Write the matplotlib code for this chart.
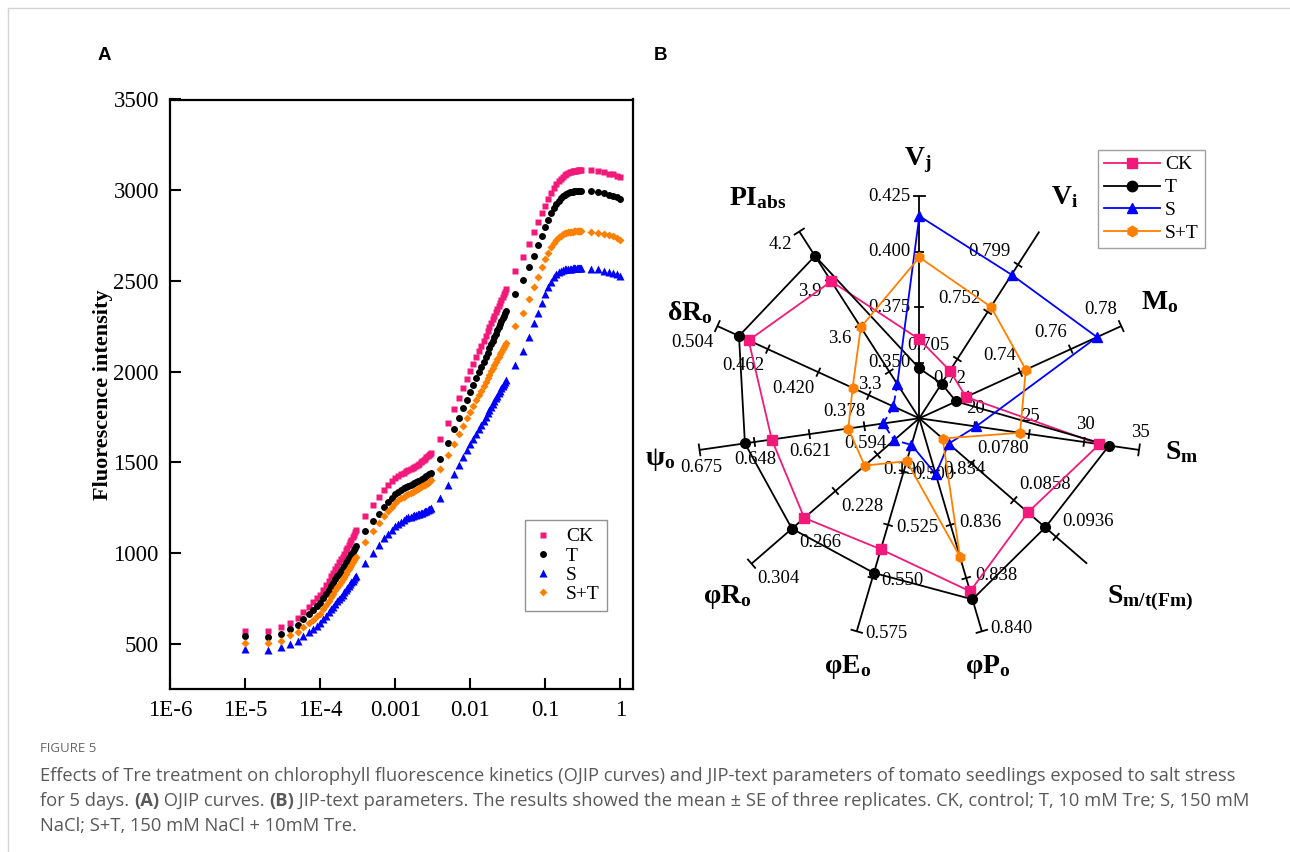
import numpy as np
import matplotlib
matplotlib.use('agg')
import matplotlib.pyplot as plt
from matplotlib.lines import Line2D

plt.rcParams['font.family'] = ['Liberation Serif', 'DejaVu Serif']
plt.rcParams['mathtext.fontset'] = 'custom'
plt.rcParams['mathtext.rm'] = 'Liberation Serif'
plt.rcParams['mathtext.bf'] = 'Liberation Serif:bold'
plt.rcParams['mathtext.it'] = 'Liberation Serif:italic'

W, H = 1290, 852

# ---------------- panel A: OJIP curves ----------------
time_ms = [0.01, 0.02, 0.03, 0.04, 0.05, 0.06, 0.07, 0.08, 0.09, 0.10,
           0.11, 0.12, 0.13, 0.14, 0.15, 0.16, 0.17, 0.18, 0.19, 0.20,
           0.21, 0.22, 0.23, 0.24, 0.25, 0.26, 0.27, 0.28, 0.29, 0.30,
           0.4, 0.5, 0.6, 0.7, 0.8, 0.9, 1.0, 1.1, 1.2, 1.3, 1.4, 1.5, 1.6, 1.7,
           1.8, 1.9, 2.0, 2.1, 2.2, 2.3, 2.4, 2.5, 2.6, 2.7, 2.8, 2.9, 3.0,
           4, 5, 6, 7, 8, 9, 10, 11, 12, 13, 14, 15, 16, 17, 18, 19, 20,
           21, 22, 23, 24, 25, 26, 27, 28, 29, 30,
           40, 50, 60, 70, 80, 90, 100, 110, 120, 130, 140, 150, 160, 170,
           180, 190, 200, 210, 220, 230, 240, 250, 260, 270, 280, 290, 300,
           400, 500, 600, 700, 800, 900, 1000]

fl_ck = [570, 570, 591, 615, 642, 675, 703, 727, 749, 768, 797, 824, 848, 871, 892,
         912, 930, 948, 964, 980, 997, 1014, 1030, 1045, 1060, 1074, 1087, 1100, 1113, 1125,
         1203, 1263, 1309, 1346, 1374, 1394, 1411, 1424, 1434, 1443, 1450, 1456, 1462, 1468,
         1474, 1480, 1486, 1492, 1499, 1506, 1513, 1520, 1527, 1534, 1540, 1546, 1552,
         1626, 1718, 1793, 1856, 1911, 1960, 2003, 2042, 2078, 2111, 2141, 2170, 2196, 2221,
         2245, 2267, 2288, 2308, 2327, 2345, 2363, 2380, 2396, 2411, 2426, 2441, 2455,
         2556, 2634, 2704, 2772, 2827, 2873, 2913, 2950, 2983, 3011, 3033, 3050, 3064, 3075,
         3084, 3090, 3095, 3099, 3102, 3104, 3106, 3107, 3108, 3109, 3110, 3110, 3110,
         3110, 3104, 3098, 3092, 3087, 3081, 3075]
fl_t = [540, 538, 555, 580, 603, 635, 662, 686, 706, 725, 751, 775, 797, 817, 836,
        854, 871, 886, 901, 915, 930, 944, 957, 970, 982, 994, 1005, 1016, 1027, 1037,
        1120, 1175, 1217, 1252, 1280, 1305, 1325, 1338, 1348, 1356, 1363, 1369, 1374, 1379,
        1384, 1389, 1394, 1399, 1404, 1409, 1414, 1419, 1424, 1429, 1434, 1438, 1442,
        1516, 1607, 1681, 1744, 1798, 1846, 1889, 1928, 1963, 1996, 2026, 2054, 2080, 2105,
        2128, 2150, 2171, 2191, 2209, 2227, 2245, 2261, 2277, 2293, 2308, 2322, 2336,
        2428, 2505, 2575, 2637, 2698, 2748, 2799, 2836, 2873, 2901, 2925, 2943, 2957, 2967,
        2975, 2981, 2985, 2988, 2990, 2992, 2993, 2994, 2995, 2995, 2995, 2995, 2995,
        2995, 2989, 2983, 2976, 2969, 2960, 2951]
fl_s = [468, 464, 479, 500, 517, 542, 563, 581, 598, 612, 634, 654, 672, 689, 704,
        719, 733, 746, 758, 770, 783, 795, 806, 817, 828, 838, 848, 857, 866, 875,
        945, 1000, 1046, 1080, 1105, 1128, 1147, 1162, 1173, 1182, 1190, 1196, 1200, 1204,
        1208, 1211, 1214, 1217, 1220, 1223, 1226, 1229, 1233, 1237, 1241, 1245, 1250,
        1305, 1377, 1435, 1485, 1528, 1566, 1600, 1630, 1658, 1684, 1708, 1730, 1751, 1770,
        1789, 1806, 1822, 1838, 1853, 1867, 1881, 1894, 1907, 1919, 1931, 1942, 1953,
        2036, 2115, 2192, 2266, 2325, 2380, 2428, 2465, 2496, 2520, 2538, 2550, 2557, 2561,
        2564, 2566, 2567, 2568, 2568, 2569, 2569, 2569, 2569, 2569, 2569, 2569, 2569,
        2568, 2563, 2557, 2551, 2545, 2537, 2528]
fl_st = [505, 501, 516, 545, 565, 591, 614, 633, 650, 665, 691, 715, 737, 757, 776,
         794, 811, 826, 841, 855, 870, 884, 898, 911, 924, 936, 948, 959, 970, 980,
         1061, 1121, 1166, 1203, 1232, 1256, 1276, 1290, 1302, 1311, 1319, 1325, 1331, 1337,
         1342, 1347, 1352, 1357, 1362, 1367, 1372, 1377, 1382, 1387, 1392, 1396, 1400,
         1461, 1538, 1602, 1655, 1701, 1742, 1779, 1812, 1842, 1870, 1895, 1919, 1942, 1963,
         1983, 2001, 2019, 2036, 2052, 2068, 2082, 2096, 2110, 2123, 2136, 2148, 2160,
         2251, 2325, 2399, 2468, 2523, 2575, 2619, 2656, 2689, 2710, 2728, 2741, 2750, 2757,
         2762, 2765, 2768, 2770, 2771, 2772, 2773, 2773, 2774, 2774, 2774, 2774, 2774,
         2770, 2764, 2758, 2752, 2745, 2737, 2728]

x_ticks = [1e-6, 1e-5, 1e-4, 1e-3, 1e-2, 1e-1, 1]
x_ticklabels = ['1E-6', '1E-5', '1E-4', '0.001', '0.01', '0.1', '1']

# ---------------- panel B: JIP-test radar ----------------
params = [r'$\mathbf{V_j}$', r'$\mathbf{V_i}$', r'$\mathbf{M_o}$', r'$\mathbf{S_m}$',
          r'$\mathbf{S_{m/t(Fm)}}$', r'$\mathbf{φP_o}$', r'$\mathbf{φE_o}$',
          r'$\mathbf{φR_o}$', r'$\mathbf{ψ_o}$', r'$\mathbf{δR_o}$', r'$\mathbf{PI_{abs}}$']
axis_min = [0.325, 0.646, 0.70, 15, 0.0684, 0.832, 0.475, 0.152, 0.567, 0.336, 3.0]
axis_max = [0.425, 0.832, 0.78, 35, 0.0993, 0.840, 0.575, 0.304, 0.675, 0.504, 4.2]
axis_ticks = [['0.350', '0.375', '0.400', '0.425'],
              ['0.705', '0.752', '0.799'],
              ['0.72', '0.74', '0.76', '0.78'],
              ['20', '25', '30', '35'],
              ['0.0780', '0.0858', '0.0936'],
              ['0.834', '0.836', '0.838', '0.840'],
              ['0.500', '0.525', '0.550', '0.575'],
              ['0.190', '0.228', '0.266', '0.304'],
              ['0.594', '0.621', '0.648', '0.675'],
              ['0.378', '0.420', '0.462', '0.504'],
              ['3.3', '3.6', '3.9', '4.2']]
axis_cap = [True, False, True, True, False, True, True, True, True, True, True]

jip_ck = [0.3606, 0.6934, 0.7185, 31.40, 0.0884, 0.8385, 0.5365, 0.2562, 0.6395, 0.478, 3.880]
jip_t = [0.3475, 0.6805, 0.7146, 32.27, 0.0916, 0.8388, 0.5476, 0.2674, 0.6527, 0.486, 4.043]
jip_s = [0.4161, 0.7890, 0.7704, 20.17, 0.0738, 0.8341, 0.4875, 0.1748, 0.5847, 0.3576, 3.220]
jip_st = [0.3975, 0.7570, 0.7422, 24.17, 0.0727, 0.8372, 0.4951, 0.2015, 0.6019, 0.3915, 3.585]

PINK, ORANGE, BLUE = '#F2197A', '#FF8000', '#0000FF'

fig = plt.figure(figsize=(W / 100, H / 100), dpi=100)

# ---- A ----
ax = fig.add_axes([170 / W, 1 - 689 / H, (633 - 170) / W, (689 - 99.5) / H])
t_s = np.array(time_ms) / 1000.0
ax.plot(t_s, fl_ck, ls='none', marker='s', ms=4.6, color=PINK, mec='none', label='CK')
ax.plot(t_s, fl_t, ls='none', marker='o', ms=5.0, color='black', mec='none', label='T')
ax.plot(t_s, fl_s, ls='none', marker='^', ms=5.6, color=BLUE, mec='none', label='S')
ax.plot(t_s, fl_st, ls='none', marker='D', ms=4.4, color=ORANGE, mec='none', label='S+T')
ax.set_xscale('log')
ax.set_xlim(1e-6, 1.47)
ax.set_ylim(250, 3500)
ax.set_xticks(x_ticks)
ax.set_xticklabels(x_ticklabels)
ax.minorticks_off()
ax.set_yticks([500, 1000, 1500, 2000, 2500, 3000, 3500])
ax.tick_params(direction='in', length=8, width=1.5, labelsize=16.5, pad=8)
for sp in ax.spines.values():
    sp.set_linewidth(1.6)
ax.set_ylabel('Fluorescence intensity', fontsize=16, fontweight='bold', labelpad=0)
leg = ax.legend(loc='upper left', bbox_to_anchor=(525 / W, 1 - 520 / H),
                bbox_transform=fig.transFigure, fancybox=False, edgecolor='#777777',
                fontsize=14, handlelength=1.0, handletextpad=0.7, borderpad=0.4,
                labelspacing=0.08, borderaxespad=0)
leg.get_frame().set_linewidth(1.0)

# ---- B ----
L = 222.0  # axis length in px
cx, cy = 919.3, 418.3
lim = 1.4
bx = fig.add_axes([(cx - lim * L) / W, 1 - (cy + lim * L) / H, 2 * lim * L / W, 2 * lim * L / H])
bx.set_xlim(-lim, lim)
bx.set_ylim(-lim, lim)
bx.axis('off')

n = len(params)
theta = np.pi / 2 - np.arange(n) * 2 * np.pi / n
px = 1.0 / L
# axis-title placement: (radius, angle in degrees)
title_pos = [(1.163, 90.3), (1.193, 56.6), (1.204, 25.8), (1.193, -7.3), (1.317, -37.9),
             (1.162, -74.6), (1.165, -106.0), (1.182, -137.1), (1.18, -171.0),
             (1.137, 155.3), (1.23, 126.2)]

for i in range(n):
    c, s = np.cos(theta[i]), np.sin(theta[i])
    nx, ny = -s, c
    bx.plot([0, c], [0, s], color='black', lw=1.3, zorder=1, solid_capstyle='butt')
    lo, hi = axis_min[i], axis_max[i]
    for k, lab in enumerate(axis_ticks[i]):
        r = (float(lab) - lo) / (hi - lo)
        tx, ty = r * c, r * s
        half = 5.5 * px if (axis_cap[i] and k == len(axis_ticks[i]) - 1) else 4 * px
        bx.plot([tx - half * nx, tx + half * nx], [ty - half * ny, ty + half * ny],
                color='black', lw=1.3, zorder=1)
        ha = 'right' if nx < -0.3 else ('left' if nx > 0.3 else 'center')
        va = 'bottom' if ny > 0.3 else ('top' if ny < -0.3 else 'center')
        d = 9 * px
        bx.text(tx + d * nx, ty + d * ny, lab, ha=ha, va=va, fontsize=13.5, zorder=2)
    tr, ta = title_pos[i]
    bx.text(tr * np.cos(np.radians(ta)), tr * np.sin(np.radians(ta)), params[i],
            ha='center', va='center', fontsize=20)


def to_xy(vals):
    r = [(v - lo) / (hi - lo) for v, lo, hi in zip(vals, axis_min, axis_max)]
    return np.array(r) * np.cos(theta), np.array(r) * np.sin(theta)


series = [(jip_ck, PINK, 's', 'CK'), (jip_t, 'black', 'o', 'T'),
          (jip_s, BLUE, '^', 'S'), (jip_st, ORANGE, 'h', 'S+T')]
handles = []
for vals, col, mk, lab in series:
    x, y = to_xy(vals)
    if lab == 'S':
        solid = [6, 5, 4, 3, 2, 1, 0, 10]
        dashed = [10, 9, 8, 7, 6]
        bx.plot(x[solid], y[solid], color=col, lw=1.3, zorder=3)
        bx.plot(x[dashed], y[dashed], color=col, lw=1.3, ls=(0, (4, 2.5)), zorder=3)
    else:
        bx.plot(np.append(x, x[0]), np.append(y, y[0]), color=col, lw=1.3, zorder=3)
    bx.plot(x, y, ls='none', marker=mk, ms=7, color=col, mec=col, zorder=4)
    handles.append(Line2D([], [], color=col, lw=1.3, marker=mk, ms=7.5, label=lab))

leg2 = fig.legend(handles=handles, loc='upper left', bbox_to_anchor=(1098 / W, 1 - 150 / H),
                  fancybox=False, edgecolor='#888888', fontsize=14, handlelength=2.9,
                  handletextpad=0.25, borderpad=0.3, labelspacing=0.27, borderaxespad=0)
leg2.get_frame().set_linewidth(1.0)

# ---- panel letters, caption, frame ----
fig.text(98 / W, 1 - 55 / H, 'A', fontsize=13.5, fontweight='bold', family='Liberation Sans',
         va='center')
fig.text(654 / W, 1 - 55 / H, 'B', fontsize=13.5, fontweight='bold', family='Liberation Sans',
         va='center')
fig.add_artist(Line2D([8 / W, 1], [1 - 8 / H, 1 - 8 / H], color='#d4d4d4', lw=1))
fig.add_artist(Line2D([8 / W, 8 / W], [0, 1 - 8 / H], color='#d4d4d4', lw=1))

cap_font = ['Open Sans', 'DejaVu Sans']
cap_col = '#595959'
fig.text(40 / W, 1 - 748 / H, 'FIGURE 5', fontsize=9.5, color='#666666', family=cap_font,
         va='center')
renderer = fig.canvas.get_renderer()
lines = [[('Effects of Tre treatment on chlorophyll fluorescence kinetics (OJIP curves) and '
           'JIP-text parameters of tomato seedlings exposed to salt stress', 'normal')],
         [('for 5 days. ', 'normal'), ('(A)', 'bold'), (' OJIP curves. ', 'normal'),
          ('(B)', 'bold'), (' JIP-text parameters. The results showed the mean \u00b1 SE of '
                           'three replicates. CK, control; T, 10 mM Tre; S, 150 mM', 'normal')],
         [('NaCl; S+T, 150 mM NaCl + 10mM Tre.', 'normal')]]
for j, parts in enumerate(lines):
    xpos = 40
    ypos = 776 + 25 * j
    for txt, wt in parts:
        tt = fig.text(xpos / W, 1 - ypos / H, txt, fontsize=13.2, color=cap_col,
                      family=cap_font, fontweight=wt, va='center')
        bb = tt.get_window_extent(renderer)
        xpos += bb.width

fig.savefig('out.png', dpi=100)
